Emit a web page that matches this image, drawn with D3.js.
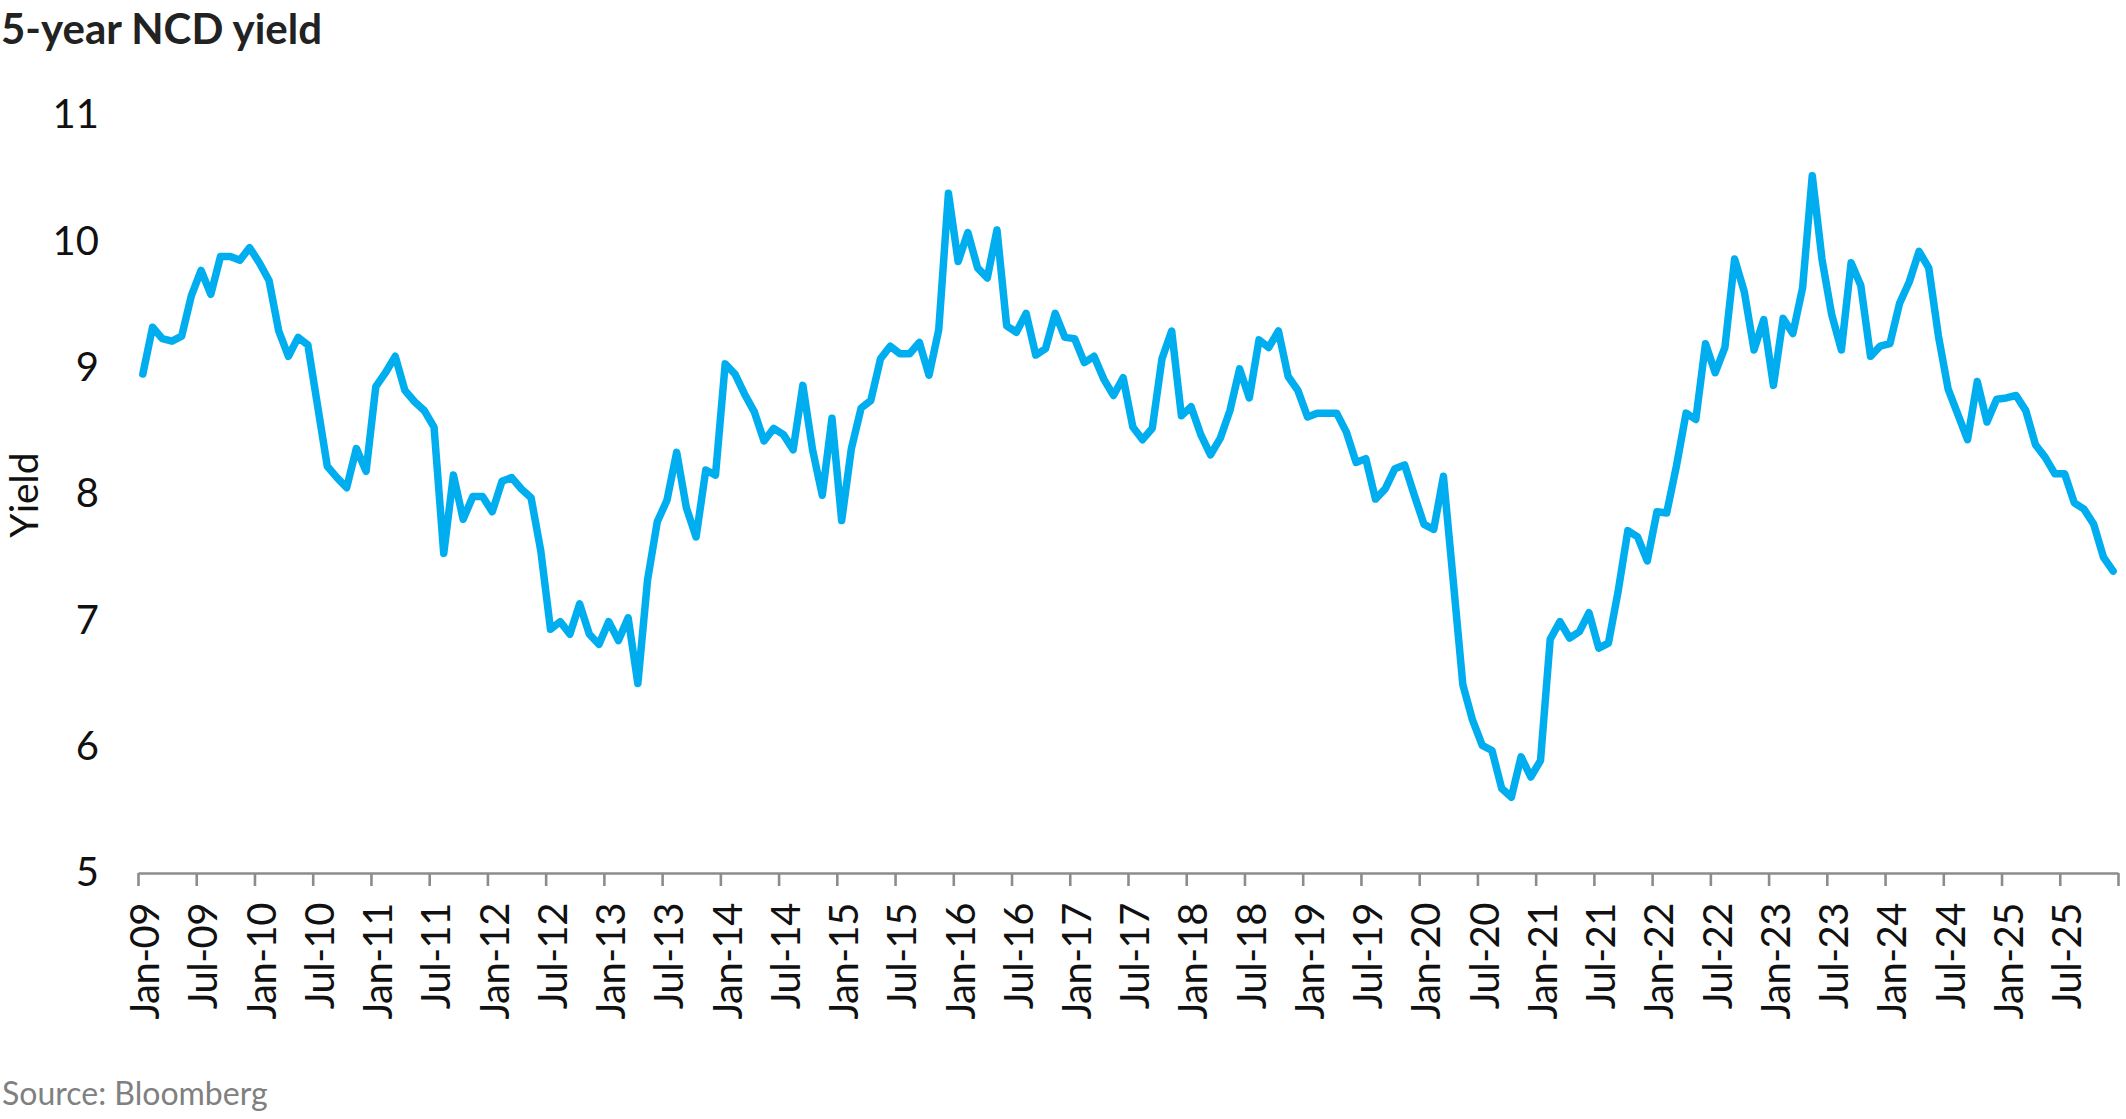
<!DOCTYPE html>
<html>
<head>
<meta charset="utf-8">
<script src="https://cdn.jsdelivr.net/npm/d3@7"></script>
<style>
  html, body { margin: 0; padding: 0; background: #fff; }
  svg { display: block; font-family: Lato, "Open Sans", sans-serif; }
</style>
</head>
<body>
<svg id="chart" width="2126" height="1119"></svg>
<script>
// Monthly 5-year NCD yield, Jan-09 .. Dec-25
const startMonth = new Date(2009, 0, 1);
const yields = [
  8.95, 9.32, 9.23, 9.21, 9.25, 9.57, 9.77, 9.58, 9.88, 9.88, 9.85, 9.95,
  9.83, 9.69, 9.29, 9.09, 9.24, 9.18, 8.70, 8.22, 8.13, 8.05, 8.36, 8.18,
  8.85, 8.96, 9.09, 8.82, 8.73, 8.66, 8.53, 7.53, 8.15, 7.80, 7.98, 7.98,
  7.86, 8.10, 8.13, 8.04, 7.97, 7.55, 6.93, 6.99, 6.89, 7.13, 6.89, 6.81,
  6.99, 6.84, 7.02, 6.50, 7.32, 7.78, 7.95, 8.33, 7.89, 7.66, 8.19, 8.15,
  9.03, 8.95, 8.79, 8.65, 8.42, 8.52, 8.47, 8.35, 8.86, 8.35, 7.99, 8.60,
  7.79, 8.36, 8.68, 8.74, 9.07, 9.17, 9.11, 9.11, 9.20, 8.94, 9.30, 10.38,
  9.84, 10.07, 9.79, 9.71, 10.09, 9.33, 9.28, 9.43, 9.10, 9.15, 9.43, 9.24,
  9.23, 9.04, 9.09, 8.91, 8.78, 8.92, 8.53, 8.43, 8.52, 9.07, 9.29, 8.62,
  8.69, 8.47, 8.31, 8.44, 8.66, 8.99, 8.76, 9.22, 9.16, 9.29, 8.93, 8.82,
  8.61, 8.64, 8.64, 8.64, 8.49, 8.25, 8.28, 7.96, 8.04, 8.20, 8.23, 7.99,
  7.76, 7.72, 8.14, 7.32, 6.49, 6.21, 6.01, 5.97, 5.67, 5.60, 5.92, 5.76,
  5.89, 6.85, 6.99, 6.86, 6.91, 7.06, 6.78, 6.82, 7.23, 7.71, 7.66, 7.47,
  7.86, 7.85, 8.22, 8.64, 8.59, 9.19, 8.96, 9.16, 9.86, 9.60, 9.14, 9.38,
  8.86, 9.39, 9.27, 9.63, 10.52, 9.86, 9.42, 9.14, 9.83, 9.65, 9.09, 9.17,
  9.19, 9.51, 9.68, 9.92, 9.79, 9.25, 8.83, 8.63, 8.43, 8.89, 8.57, 8.75,
  8.76, 8.78, 8.66, 8.39, 8.29, 8.16, 8.16, 7.93, 7.88, 7.76, 7.50, 7.39
];
const months = yields.map((d, i) => d3.timeFormat("%b-%y")(d3.timeMonth.offset(startMonth, i)));

const tickLabels = [
  "Jan-09", "Jul-09", "Jan-10", "Jul-10", "Jan-11", "Jul-11", "Jan-12", "Jul-12",
  "Jan-13", "Jul-13", "Jan-14", "Jul-14", "Jan-15", "Jul-15", "Jan-16", "Jul-16",
  "Jan-17", "Jul-17", "Jan-18", "Jul-18", "Jan-19", "Jul-19", "Jan-20", "Jul-20",
  "Jan-21", "Jul-21", "Jan-22", "Jul-22", "Jan-23", "Jul-23", "Jan-24", "Jul-24",
  "Jan-25", "Jul-25"
];
const yTicks = [5, 6, 7, 8, 9, 10, 11];

const svg = d3.select("#chart");
const margin = { left: 138, right: 2118, top: 115, bottom: 873 };

// category axis: ticks sit on month boundaries, points in the middle
const x = d3.scaleLinear().domain([0, months.length]).range([margin.left, margin.right]);
const y = d3.scaleLinear().domain([5, 11]).range([margin.bottom, margin.top]);
const half = (x(1) - x(0)) / 2;

// title
svg.append("text")
  .attr("x", 1)
  .attr("y", 44)
  .attr("font-size", 42)
  .attr("font-weight", "bold")
  .attr("fill", "#222")
  .text("5-year NCD yield");

// y axis (labels only)
const yAxis = svg.append("g")
  .attr("transform", `translate(99,0)`)
  .call(d3.axisLeft(y).tickValues(yTicks).tickSize(0).tickPadding(0).tickFormat(d3.format("d")));
yAxis.select(".domain").remove();
yAxis.selectAll("text")
  .attr("font-family", "Lato, sans-serif")
  .attr("font-size", 40)
  .attr("fill", "#111");

svg.append("text")
  .attr("transform", "translate(38,495) rotate(-90)")
  .attr("text-anchor", "middle")
  .attr("font-size", 39)
  .attr("fill", "#111")
  .text("Yield");

// x axis
const tickIdx = d3.range(0, months.length + 1, 6);
const xAxis = svg.append("g")
  .attr("transform", `translate(0,${margin.bottom})`)
  .call(d3.axisBottom(x)
    .tickValues(tickIdx)
    .tickSize(13)
    .tickSizeOuter(0)
    .tickFormat(i => tickLabels[i / 6] || ""));
xAxis.select(".domain").attr("stroke", "#8c8c8c").attr("stroke-width", 2.6);
xAxis.selectAll(".tick line").attr("stroke", "#8c8c8c").attr("stroke-width", 2.6);
xAxis.selectAll(".tick text")
  .attr("transform", `translate(${half + 1.5},30) rotate(-90)`)
  .attr("x", 0)
  .attr("y", 0)
  .attr("dy", "0.36em")
  .attr("text-anchor", "end")
  .attr("font-family", "Lato, sans-serif")
  .attr("font-size", 40)
  .attr("letter-spacing", -0.5)
  .attr("fill", "#111");

// line
const line = d3.line()
  .x((d, i) => x(i) + half)
  .y(d => y(d));

svg.append("path")
  .datum(yields)
  .attr("fill", "none")
  .attr("stroke", "#00AEEF")
  .attr("stroke-width", 7.5)
  .attr("stroke-linejoin", "round")
  .attr("stroke-linecap", "round")
  .attr("d", line);

// source
svg.append("text")
  .attr("x", 2)
  .attr("y", 1105)
  .attr("font-size", 32)
  .attr("fill", "#808080")
  .text("Source: Bloomberg");
</script>
</body>
</html>
